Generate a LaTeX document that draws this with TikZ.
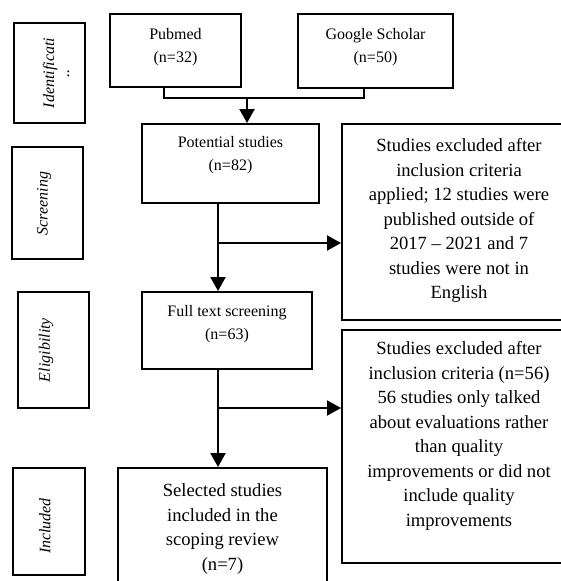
\documentclass[tikz,border=0pt]{standalone}
\usepackage{fontspec}
\setmainfont{Liberation Serif}
\usetikzlibrary{arrows.meta,calc}
\begin{document}
\begin{tikzpicture}[x=1pt,y=-1pt,
  box/.style={draw,line width=1.9pt},
  small/.style={font=\fontsize{16}{23}\selectfont,align=center,inner sep=0pt,anchor=north},
  big/.style={font=\fontsize{18.6}{24.5}\selectfont,align=center,inner sep=0pt,anchor=north},
  side/.style={font=\fontsize{16}{15}\selectfont\itshape,rotate=90,align=center,inner sep=0pt},
  conn/.style={line width=1.9pt},
  arr/.style={line width=1.9pt,-{Triangle[width=15pt,length=14pt]}}]
\useasboundingbox (0,0) rectangle (561,581);
% stage labels
\draw[box] (14,23) rectangle (85,123);
\node[side] (tid) at (56,73) {Identificati\\..};
\draw[box] (12,147) rectangle (83,259);
\node[side] (tsc) at (44,203.5) {Screening};
\draw[box] (18,292) rectangle (89,408);
\node[side] (tel) at (46,350) {Eligibility};
\draw[box] (13,468) rectangle (85,575);
\node[side] (tin) at (45,526) {Included};
% main boxes
\node[box,minimum width=131pt,minimum height=73pt,inner sep=0pt] (pub) at (175.5,50.5) {};
\node[small] (tpub) at (175.5,28.5) {Pubmed\\(n=32)};
\node[box,minimum width=155pt,minimum height=74pt,inner sep=0pt] (goo) at (375.5,51) {};
\node[small] (tgoo) at (375.5,28.5) {Google Scholar\\(n=50)};
\node[box,minimum width=177pt,minimum height=79pt,inner sep=0pt] (pot) at (230.5,163.5) {};
\node[small] (tpot) at (230.5,136.5) {Potential studies\\(n=82)};
\node[box,minimum width=170pt,minimum height=77pt,inner sep=0pt] (ful) at (227,330.5) {};
\node[small] (tful) at (227,305.5) {Full text screening\\(n=63)};
\node[box,minimum width=209pt,minimum height=130pt,inner sep=0pt] (sel) at (222.5,533) {};
\node[big] (tsel) at (222.5,483.5) {Selected studies\\included in the\\scoping review\\(n=7)};
\node[box,minimum width=234pt,minimum height=196pt,inner sep=0pt] (ex1) at (459,222) {};
\node[big] (tex1) at (459,138.5) {Studies excluded after\\inclusion criteria\\applied; 12 studies were\\published outside of\\2017 -- 2021 and 7\\studies were not in\\English};
\node[box,minimum width=234pt,minimum height=233pt,inner sep=0pt] (ex2) at (459,446.5) {};
\node[big] (tex2) at (459,341.5) {Studies excluded after\\inclusion criteria (n=56)\\56 studies only talked\\about evaluations rather\\than quality\\improvements or did not\\include quality\\improvements};
% junction coordinates
\coordinate (jp) at (164,98);
\coordinate (jg) at (364,98);
\coordinate (jm) at (247,98);
\coordinate (j1) at (218,243);
\coordinate (j2) at (218,408);
% connectors
\draw[conn] (pub.south -| jp) -- (jp) -- (jg) -- (goo.south -| jg);
\draw[arr] (jm) -- (pot.north -| jm);
\draw[arr] (pot.south -| j1) -- (ful.north -| j1);
\draw[arr] (j1) -- (ex1.west |- j1);
\draw[arr] (ful.south -| j2) -- (sel.north -| j2);
\draw[arr] (j2) -- (ex2.west |- j2);
\end{tikzpicture}
\end{document}
